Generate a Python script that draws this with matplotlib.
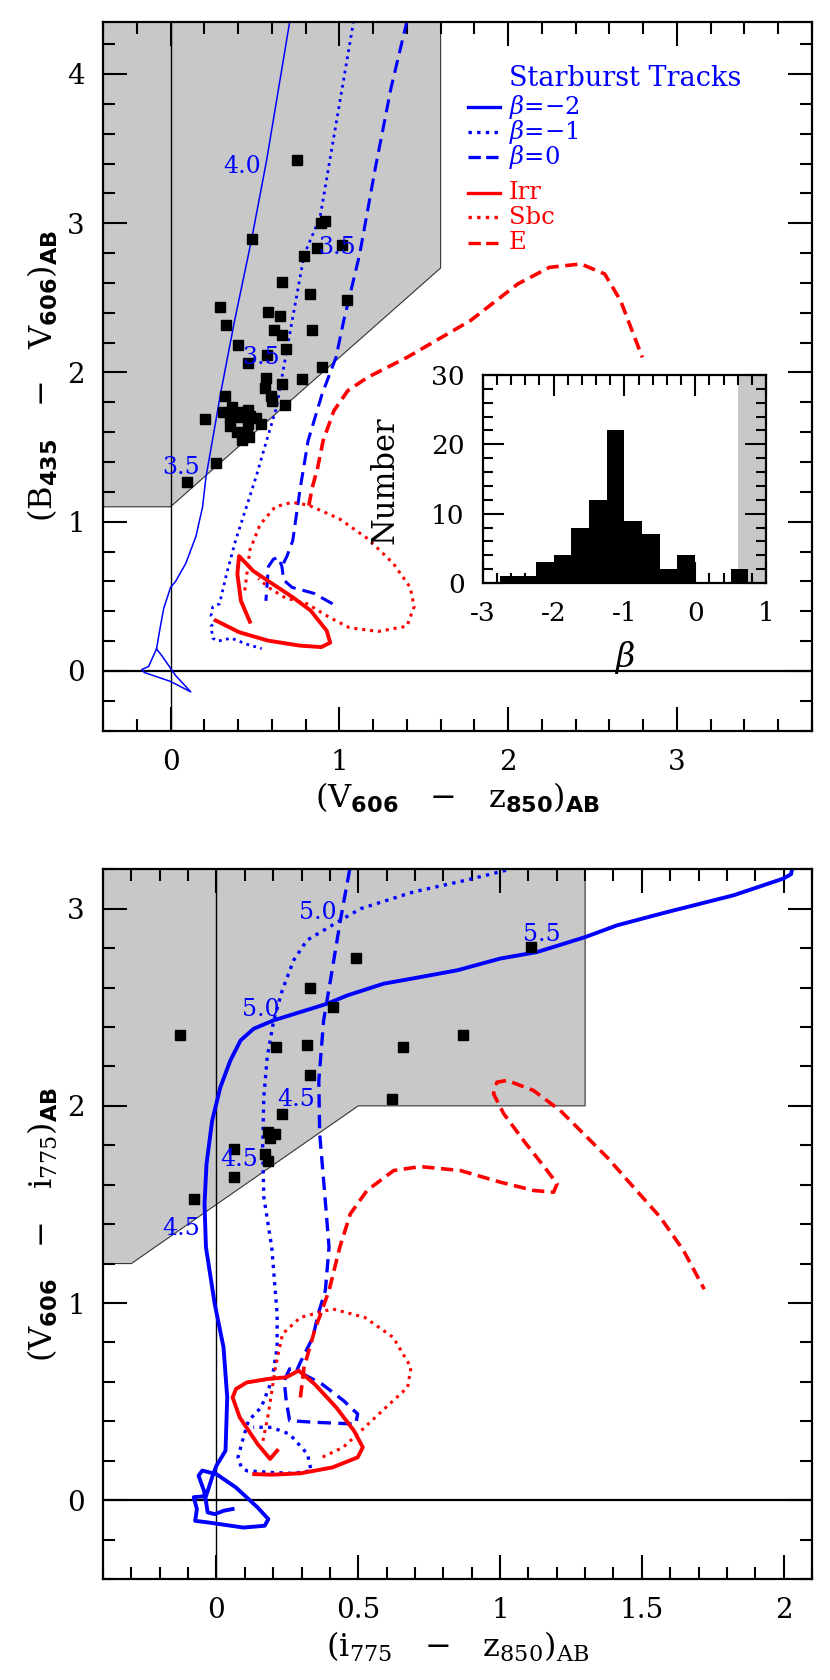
import numpy as np
import matplotlib
matplotlib.use('Agg')
import matplotlib.pyplot as plt
from matplotlib.patches import Polygon
from matplotlib.ticker import MultipleLocator, FormatStrFormatter

plt.rcParams['font.family'] = ['DejaVu Serif']
plt.rcParams['mathtext.fontset'] = 'custom'
plt.rcParams['mathtext.rm'] = 'DejaVu Serif'
plt.rcParams['mathtext.it'] = 'DejaVu Serif:italic'
plt.rcParams['mathtext.bf'] = 'DejaVu Serif:bold'
plt.rcParams['mathtext.sf'] = 'DejaVu Sans:bold'

BLUE = '#0000ff'
RED = '#ff0000'
GRAY = '#c8c8c8'

# ---------------- top panel: (V606 - z850) vs (B435 - V606) ----------------
top_vz = [0.748, 0.484, 0.889, 0.918, 0.867, 1.015, 0.788, 0.658, 0.827, 1.047,
          0.296, 0.577, 0.648, 0.328, 0.614, 0.658, 0.837, 0.399, 0.687, 0.569,
          0.456, 0.898, 0.567, 0.778, 0.658, 0.557, 0.320, 0.594, 0.600, 0.676,
          0.207, 0.308, 0.367, 0.411, 0.460, 0.354, 0.411, 0.470, 0.505, 0.535,
          0.354, 0.460, 0.395, 0.455, 0.421, 0.465, 0.267, 0.097]
top_bv = [3.425, 2.892, 2.999, 3.016, 2.834, 2.854, 2.782, 2.606, 2.526, 2.485,
          2.439, 2.405, 2.378, 2.318, 2.287, 2.249, 2.287, 2.186, 2.155, 2.115,
          2.061, 2.034, 1.965, 1.956, 1.925, 1.896, 1.845, 1.845, 1.806, 1.784,
          1.688, 1.737, 1.766, 1.733, 1.750, 1.700, 1.700, 1.710, 1.697, 1.655,
          1.639, 1.655, 1.599, 1.588, 1.548, 1.566, 1.396, 1.268]

# starburst tracks
t_b2_x = [0.706, 0.569, 0.48, 0.38, 0.296, 0.248, 0.21, 0.19, 0.15, 0.09, 0.03, 0.0,
          -0.04, -0.061, -0.083, -0.13, -0.17, -0.155, 0.0, 0.12, 0.03, -0.05, -0.083]
t_b2_y = [4.35, 3.42, 2.89, 2.35, 1.856, 1.543, 1.3, 1.1, 0.9, 0.72, 0.6, 0.56,
          0.42, 0.293, 0.148, 0.03, 0.01, -0.01, -0.07, -0.14, -0.03, 0.1, 0.148]
t_b1_x = [1.085, 0.886, 0.792, 0.699, 0.628, 0.569, 0.512, 0.449, 0.385, 0.332, 0.29,
          0.25, 0.24, 0.27, 0.24, 0.25, 0.28, 0.36, 0.45, 0.54]
t_b1_y = [4.356, 3.04, 2.79, 2.213, 1.766, 1.543, 1.32, 1.097, 0.873, 0.65, 0.45,
          0.43, 0.37, 0.33, 0.30, 0.22, 0.20, 0.22, 0.18, 0.15]
t_b0_x = [1.401, 1.307, 1.214, 1.12, 1.026, 0.98, 0.898, 0.815, 0.766, 0.724, 0.69, 0.66]
t_b0_y = [4.356, 3.91, 3.374, 2.79, 2.347, 2.10, 1.856, 1.543, 1.208, 0.873, 0.77, 0.70]
t_b0b_x = [0.96, 0.85, 0.72, 0.67, 0.66, 0.64, 0.61, 0.58, 0.565]
t_b0b_y = [0.45, 0.52, 0.56, 0.61, 0.70, 0.76, 0.75, 0.70, 0.47]
# galaxy templates
t_irr_x = [0.47, 0.417, 0.396, 0.406, 0.49, 0.576, 0.724, 0.83, 0.925, 0.946, 0.893,
           0.766, 0.576, 0.406, 0.269]
t_irr_y = [0.33, 0.47, 0.65, 0.77, 0.67, 0.605, 0.494, 0.405, 0.27, 0.19, 0.16,
           0.17, 0.204, 0.26, 0.338]
t_sbc_x = [0.44, 0.47, 0.53, 0.62, 0.72, 0.82, 1.0, 1.17, 1.32, 1.42, 1.443, 1.40,
           1.23, 1.06, 0.94, 0.81, 0.68, 0.58, 0.52]
t_sbc_y = [0.54, 0.81, 0.98, 1.10, 1.13, 1.11, 1.02, 0.885, 0.72, 0.56, 0.43, 0.30,
           0.265, 0.29, 0.36, 0.45, 0.49, 0.56, 0.62]
t_e_x = [0.819, 0.84, 0.872, 0.904, 0.968, 1.05, 1.167, 1.401, 1.776, 2.057, 2.244,
         2.431, 2.572, 2.666, 2.795]
t_e_y = [1.108, 1.23, 1.364, 1.543, 1.744, 1.878, 1.967, 2.101, 2.347, 2.593, 2.704,
         2.727, 2.66, 2.481, 2.101]
top_zlab = ['4.0', '3.5', '3.5', '3.5']
top_zlab_x = [0.424, 0.984, 0.539, 0.065]
top_zlab_y = [3.38, 2.834, 2.10, 1.36]

# histogram of beta
beta_lo = [-2.75, -2.5, -2.25, -2.0, -1.75, -1.5, -1.25, -1.0, -0.75, -0.5, -0.25, 0.0, 0.25, 0.5]
beta_n = [1, 1, 3, 4, 8, 12, 22, 9, 7, 2, 4, 0, 0, 2]

# ---------------- bottom panel: (i775 - z850) vs (V606 - i775) ----------------
bot_iz = [-0.129, 0.491, 1.109, 0.329, 0.411, 0.211, 0.321, 0.659, 0.870, 0.329,
          0.620, 0.230, 0.182, 0.208, 0.190, 0.061, 0.170, 0.182, 0.061, -0.079]
bot_vi = [2.357, 2.750, 2.808, 2.598, 2.499, 2.300, 2.308, 2.300, 2.357, 2.159,
          2.037, 1.958, 1.868, 1.858, 1.835, 1.780, 1.757, 1.719, 1.640, 1.528]

b_b2_x = [2.03, 2.026, 1.999, 1.823, 1.589, 1.413, 1.30, 1.13, 1.0, 0.85, 0.707, 0.59,
          0.461, 0.39, 0.296, 0.202, 0.131, 0.085, 0.049, 0.014, -0.015, -0.035, -0.042,
          -0.037, -0.006, 0.025, 0.038, 0.032, 0.0, -0.012, -0.03, -0.037, -0.08, -0.069,
          -0.075, -0.03, 0.095, 0.17, 0.183, 0.145, 0.069, 0.0, -0.05, -0.063, -0.044,
          -0.037, -0.031, -0.006, 0.025, 0.057]
b_b2_y = [3.20, 3.175, 3.153, 3.068, 2.983, 2.916, 2.856, 2.78, 2.747, 2.688, 2.65, 2.62,
          2.56, 2.518, 2.476, 2.434, 2.391, 2.332, 2.23, 2.095, 1.926, 1.706, 1.503,
          1.283, 0.995, 0.775, 0.521, 0.251, 0.175, 0.13, 0.05, 0.02, 0.015, -0.045,
          -0.105, -0.113, -0.139, -0.13, -0.096, -0.037, 0.064, 0.132, 0.15, 0.124, 0.048,
          -0.005, -0.062, -0.071, -0.054, -0.045]
b_b1_x = [1.021, 0.881, 0.694, 0.508, 0.437, 0.319, 0.272, 0.232, 0.202, 0.179, 0.167,
          0.163, 0.167, 0.195, 0.214, 0.214, 0.195, 0.158, 0.113, 0.095, 0.076, 0.088,
          0.107, 0.2, 0.271, 0.334, 0.321, 0.258, 0.195, 0.13]
b_b1_y = [3.195, 3.145, 3.085, 3.0, 2.941, 2.84, 2.738, 2.586, 2.434, 2.247, 2.044,
          1.79, 1.537, 1.283, 0.945, 0.775, 0.606, 0.471, 0.403, 0.318, 0.217, 0.166,
          0.149, 0.14, 0.136, 0.149, 0.234, 0.335, 0.369, 0.37]
b_b0_x = [0.47, 0.437, 0.402, 0.378, 0.361, 0.364, 0.378, 0.397, 0.384, 0.359, 0.340,
          0.296, 0.283, 0.372, 0.448, 0.498, 0.491, 0.346, 0.258, 0.246, 0.239, 0.258, 0.283]
b_b0_y = [3.2, 2.941, 2.637, 2.434, 2.129, 1.858, 1.621, 1.283, 1.063, 0.945, 0.826,
          0.699, 0.657, 0.589, 0.505, 0.437, 0.386, 0.395, 0.403, 0.505, 0.606, 0.666, 0.67]
b_irr_x = [0.214, 0.189, 0.145, 0.082, 0.057, 0.069, 0.107, 0.183, 0.246, 0.290, 0.346,
           0.422, 0.485, 0.516, 0.498, 0.409, 0.296, 0.195, 0.133]
b_irr_y = [0.251, 0.209, 0.285, 0.42, 0.521, 0.564, 0.597, 0.615, 0.623, 0.657, 0.589,
           0.471, 0.352, 0.268, 0.217, 0.166, 0.136, 0.129, 0.132]
b_sbc_x = [0.164, 0.183, 0.208, 0.233, 0.296, 0.409, 0.523, 0.623, 0.686, 0.674, 0.598,
           0.510, 0.447, 0.372]
b_sbc_y = [0.301, 0.437, 0.674, 0.843, 0.927, 0.970, 0.927, 0.826, 0.674, 0.572, 0.471,
           0.352, 0.268, 0.217]
b_e_x = [0.296, 0.309, 0.346, 0.397, 0.435, 0.472, 0.531, 0.625, 0.719, 0.860, 1.001,
         1.118, 1.189, 1.201, 1.166, 1.083, 1.013, 0.977, 0.989, 1.025, 1.118, 1.212,
         1.295, 1.377, 1.471, 1.565, 1.647, 1.72]
b_e_y = [0.521, 0.674, 0.86, 1.063, 1.283, 1.452, 1.571, 1.672, 1.692, 1.672, 1.613,
         1.571, 1.562, 1.605, 1.672, 1.824, 1.960, 2.061, 2.120, 2.129, 2.078, 1.977,
         1.858, 1.74, 1.587, 1.435, 1.266, 1.07]
bot_zlab = ['5.0', '5.0', '5.5', '4.5', '4.5', '4.5']
bot_zlab_x = [0.357, 0.155, 1.148, 0.282, 0.079, -0.123]
bot_zlab_y = [2.98, 2.488, 2.869, 2.032, 1.726, 1.379]


def style(ax, xmaj, xmin, ymaj, ymin, L=17, lsize=20, pad=13):
    ax.xaxis.set_major_locator(MultipleLocator(xmaj))
    ax.xaxis.set_minor_locator(MultipleLocator(xmin))
    ax.yaxis.set_major_locator(MultipleLocator(ymaj))
    ax.yaxis.set_minor_locator(MultipleLocator(ymin))
    ax.xaxis.set_major_formatter(FormatStrFormatter('%g'))
    ax.yaxis.set_major_formatter(FormatStrFormatter('%g'))
    ax.tick_params(which='both', direction='in', top=True, right=True, width=1.5)
    ax.tick_params(which='major', length=L, labelsize=lsize, pad=pad)
    ax.tick_params(which='minor', length=L / 2)
    for s in ax.spines.values():
        s.set_linewidth(1.6)


DOT = (0, (1, 1.6))
SP = r'\;\;\;'

fig = plt.figure(figsize=(8.3, 16.8), dpi=100)

# ---------------- top panel ----------------
ax1 = fig.add_axes([103 / 830, 1 - 730.7 / 1680, 709 / 830, 709 / 1680])
ax1.set_xlim(-0.4, 3.8)
ax1.set_ylim(-0.4, 4.35)
ax1.add_patch(Polygon([(-0.4, 1.1), (0, 1.1), (1.6, 2.7), (1.6, 5), (-0.4, 5)],
                      closed=True, fc=GRAY, ec='0.2', lw=0.8, zorder=0))
ax1.axvline(0, color='k', lw=1.0, zorder=1)
ax1.axhline(0, color='k', lw=1.6, zorder=1)
ax1.plot(t_b2_x, t_b2_y, color=BLUE, lw=1.1)
ax1.plot(t_b1_x, t_b1_y, color=BLUE, lw=2.0, ls=DOT)
ax1.plot(t_b0_x, t_b0_y, color=BLUE, lw=2.2, dashes=(4.3, 2.3))
ax1.plot(t_b0b_x, t_b0b_y, color=BLUE, lw=2.2, dashes=(4.3, 2.3))
ax1.plot(t_irr_x, t_irr_y, color=RED, lw=2.8)
ax1.plot(t_sbc_x, t_sbc_y, color=RED, lw=2.2, ls=DOT)
ax1.plot(t_e_x, t_e_y, color=RED, lw=2.6, dashes=(3.4, 1.8))
ax1.plot(top_vz, top_bv, 's', color='k', ms=6.5, zorder=4)
for s, x, y in zip(top_zlab, top_zlab_x, top_zlab_y):
    ax1.text(x, y, s, color=BLUE, fontsize=17, ha='center', va='center', zorder=5)
style(ax1, 1, 0.2, 1, 0.2)
ax1.set_xlabel(r'$(\mathrm{V}_{\mathsf{606}}' + SP + '-' + SP + r'\mathrm{z}_{\mathsf{850}})_{\mathsf{AB}}$',
               fontsize=23)
ax1.set_ylabel(r'$(\mathrm{B}_{\mathsf{435}}' + SP + '-' + SP + r'\mathrm{V}_{\mathsf{606}})_{\mathsf{AB}}$',
               fontsize=23)
ax1.yaxis.set_label_coords(-0.06, 0.5)

# legend drawn by hand
tr = ax1.transAxes
ax1.text(0.5726, 0.9205, 'Starburst Tracks', color=BLUE, fontsize=19.5, va='center', transform=tr)
leg = [(0.880, BLUE, '-', r'$\beta$=−2'), (0.8449, BLUE, DOT, r'$\beta$=−1'),
       (0.8096, BLUE, '--', r'$\beta$=0'), (0.7588, RED, '-', 'Irr'),
       (0.7245, RED, DOT, 'Sbc'), (0.6883, RED, '--', 'E')]
for y, c, ls, lab in leg:
    ax1.plot([0.5148, 0.560], [y, y], color=c, lw=2.4, ls=ls, transform=tr)
    ax1.text(0.5726, y, lab, color=c, fontsize=17.5, va='center', transform=tr)

# inset histogram
ins = fig.add_axes([482.7 / 830, 1 - 583 / 1680, 283.3 / 830, 208 / 1680])
ins.set_xlim(-3, 1)
ins.set_ylim(0, 30)
ins.axvspan(0.6, 1.0, color=GRAY, lw=0, zorder=0)
ins.bar(beta_lo, beta_n, width=0.25, align='edge', color='k', zorder=2)
style(ins, 1, 0.2, 10, 2, L=15, lsize=19, pad=13)
ins.text(-0.345, 0.495, 'Number', rotation=90, fontsize=22, ha='center', va='center',
         transform=ins.transAxes)
ins.text(0.5, -0.36, r'$\beta$', fontsize=24, ha='center', va='center', transform=ins.transAxes)

# ---------------- bottom panel ----------------
ax2 = fig.add_axes([103 / 830, 1 - 1579 / 1680, 709 / 830, (1579 - 869.3) / 1680])
ax2.set_xlim(-0.4, 2.1)
ax2.set_ylim(-0.4, 3.2)
ax2.add_patch(Polygon([(-0.4, 1.2), (-0.3, 1.2), (0.5, 2.0), (1.3, 2.0), (1.3, 4), (-0.4, 4)],
                      closed=True, fc=GRAY, ec='0.2', lw=0.8, zorder=0))
ax2.axvline(0, color='k', lw=1.0, zorder=1)
ax2.axhline(0, color='k', lw=1.6, zorder=1)
ax2.plot(b_b2_x, b_b2_y, color=BLUE, lw=2.8)
ax2.plot(b_b1_x, b_b1_y, color=BLUE, lw=2.4, ls=DOT)
ax2.plot(b_b0_x, b_b0_y, color=BLUE, lw=2.4, dashes=(4, 2.2))
ax2.plot(b_irr_x, b_irr_y, color=RED, lw=2.8)
ax2.plot(b_sbc_x, b_sbc_y, color=RED, lw=2.2, ls=DOT)
ax2.plot(b_e_x, b_e_y, color=RED, lw=2.6, dashes=(3.4, 1.8))
ax2.plot(bot_iz, bot_vi, 's', color='k', ms=6.5, zorder=4)
for s, x, y in zip(bot_zlab, bot_zlab_x, bot_zlab_y):
    ax2.text(x, y, s, color=BLUE, fontsize=17, ha='center', va='center', zorder=5)
style(ax2, 0.5, 0.1, 1, 0.2)
ax2.set_xlabel(r'$(\mathrm{i}_{775}' + SP + '-' + SP + r'\mathrm{z}_{850})_{\mathrm{AB}}$', fontsize=23)
ax2.set_ylabel(r'$(\mathrm{V}_{\mathsf{606}}' + SP + '-' + SP + r'\mathrm{i}_{775})_{\mathsf{AB}}$',
               fontsize=23)
ax2.yaxis.set_label_coords(-0.06, 0.5)

fig.savefig('out.png', dpi=100)
